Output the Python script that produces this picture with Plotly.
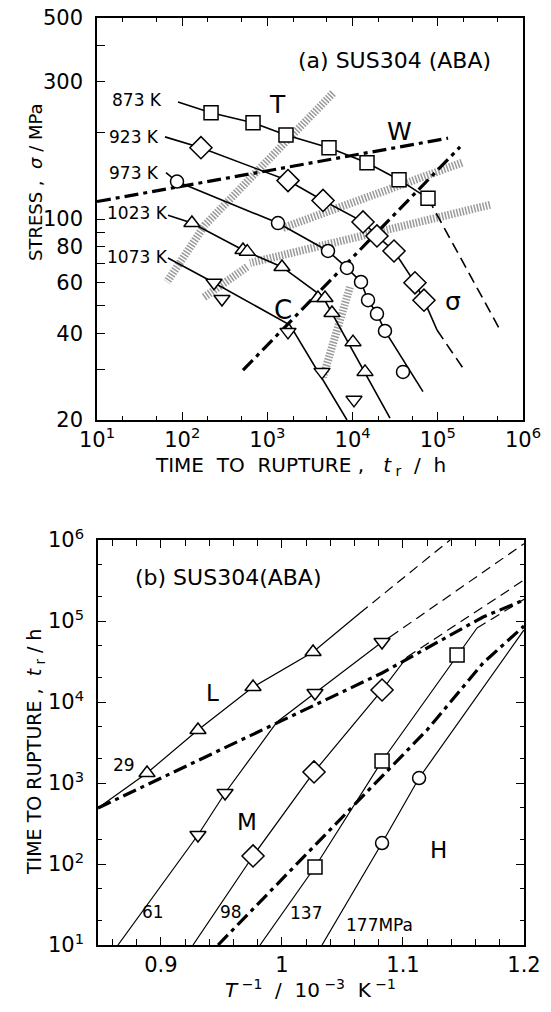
import math
import plotly.graph_objects as go

FONT = "DejaVu Sans"

# ---------------- Panel (a): stress vs time to rupture ----------------
t873 = [218, 678, 1652, 5284, 14760, 35070, 76740]
s873 = [234, 216, 196, 177, 157, 137, 118]
t873_line = [89.3, 218, 678, 1652, 5284, 14760, 35070, 76740]
s873_line = [255, 234, 216, 196, 177, 157, 137, 118]
t873_ext = [76740, 522400]
s873_ext = [118, 41.8]

t923 = [166, 1745, 4497, 13250, 19320, 30620, 53960, 68840]
s923 = [177, 136, 116, 97.7, 87.3, 77.4, 60.0, 52.2]
t923_line = [62.8, 166, 1745, 4497, 13250, 19320, 30620, 53960, 68840, 97900]
s923_line = [193, 177, 136, 116, 97.7, 87.3, 77.4, 60.0, 52.2, 41.1]
t923_ext = [97900, 197600]
s923_ext = [41.1, 30.3]

t973 = [86.9, 1331, 5143, 8590, 12550, 15170, 19320, 23990, 39050]
s973 = [135, 96.8, 77.4, 67.6, 60.4, 52.2, 46.8, 40.8, 29.4]
t973_line = [64.5, 86.9, 1331, 5143, 8590, 12550, 15170, 19320, 23990, 66980]
s973_line = [145, 135, 96.8, 77.4, 67.6, 60.4, 52.2, 46.8, 40.8, 25.1]

t1023 = [130, 517, 580, 1483, 3924, 4745, 5728, 10110, 13990]
s1023 = [96.8, 78.0, 77.0, 68.1, 53.1, 53.1, 47.1, 37.3, 29.4]
t1023_line = [68.1, 130, 517, 1483, 4500, 27480]
s1023_line = [103, 96.8, 78.0, 68.1, 53.5, 20.3]

t1073 = [236, 293, 1745, 4375, 10380]
s1073 = [60.0, 52.7, 40.5, 29.4, 23.5]
t1073_line = [68.1, 236, 1841, 8590]
s1073_line = [73.2, 60.0, 42.8, 20.0]

tW = [10, 131900]
sW = [115, 191]
tC = [517, 182400]
sC = [29.8, 178]

bandA_t = [5888, 625, 185, 66.3]
bandA_s = [274, 137, 95.3, 60.4]
bandC_t = [192400, 1524]
bandC_s = [157, 93.1]
bandD_t = [410000, 625]
bandD_s = [112, 70.3]
bandE_t = [9315, 4497]
bandE_s = [58.0, 28.2]
bandF_t = [577, 175]
bandF_s = [68.1, 53.1]

temp_labels = ["873 K", "923 K", "973 K", "1023 K", "1073 K"]
temp_label_t = [14.2, 13.1, 13.1, 12.4, 12.4]
temp_label_s = [259, 193, 145, 105, 73.8]

xa_tickvals = [10, 100, 1000, 1e4, 1e5, 1e6]
xa_ticktext = ["10<sup>1</sup>", "10<sup>2</sup>", "10<sup>3</sup>", "10<sup>4</sup>",
               "10<sup>5</sup>", "10<sup>6</sup>"]
ya_tickvals = [20, 30, 40, 50, 60, 70, 80, 90, 100, 200, 300, 400, 500]
ya_ticktext = ["20", "", "40", "", "60", "", "80", "", "100", "", "300", "", "500"]

# ---------------- Panel (b): time to rupture vs 1/T ----------------
v29 = [0.8885, 0.9306, 0.9761, 1.0257]
t29 = [1328, 4511, 15310, 41430]
v29_line = [0.848, 0.8885, 0.9306, 0.9761, 1.0257, 1.0645]
t29_line = [491, 1328, 4511, 15310, 41430, 125500]
v29_ext = [1.0645, 1.1389]
t29_ext = [125500, 1e6]

v61 = [0.9306, 0.9530, 1.0273, 1.0827]
t61 = [228, 753, 12920, 55020]
v61_line = [0.8645, 0.9306, 0.9530, 0.9777, 0.9959, 1.0273, 1.0827, 1.0893]
t61_line = [10, 228, 753, 2413, 5665, 12920, 55020, 63500]
v61_ext = [1.0893, 1.2]
t61_ext = [63500, 9.0e5]

v98 = [0.9761, 1.0265, 1.0827]
t98 = [125.6, 1368, 14060]
v98_line = [0.9265, 0.9761, 1.0265, 1.0827, 1.1034]
t98_line = [10, 125.6, 1368, 14060, 35940]
v98_ext = [1.1034, 1.2]
t98_ext = [35940, 320700]

v137 = [1.0273, 1.0827, 1.1447]
t137 = [91.8, 1870, 38050]
v137_line = [0.9819, 1.0273, 1.0827, 1.1447, 1.1612]
t137_line = [10, 91.8, 1870, 38050, 81950]
v137_ext = [1.1612, 1.2]
t137_ext = [81950, 185000]

v177 = [1.0827, 1.1133]
t177 = [181.6, 1152]
v177_line = [1.0331, 1.0827, 1.1133, 1.1414, 1.2]
t177_line = [10, 181.6, 1152, 4511, 77500]

vDD1 = [0.848, 0.9844, 1.0827, 1.1662, 1.2]
tDD1 = [491, 4511, 22790, 112100, 181500]
vDD2 = [0.9472, 1.1199, 1.1662, 1.2]
tDD2 = [10, 4511, 30300, 86700]

xb_tickvals = [0.9, 1.0, 1.1, 1.2]
xb_ticktext = ["0.9", "1", "1.1", "1.2"]
yb_tickvals = [10, 100, 1000, 1e4, 1e5, 1e6]
yb_ticktext = xa_ticktext

fig = go.Figure()

def line(x, y, xa, ya, width=1.6, dash="solid", color="black"):
    fig.add_trace(go.Scatter(x=x, y=y, mode="lines", xaxis=xa, yaxis=ya,
                             line=dict(color=color, width=width, dash=dash),
                             showlegend=False, hoverinfo="skip"))

def marks(x, y, xa, ya, symbol, size=12):
    fig.add_trace(go.Scatter(x=x, y=y, mode="markers", xaxis=xa, yaxis=ya,
                             marker=dict(symbol=symbol, size=size, color="white",
                                         line=dict(color="black", width=1.5)),
                             showlegend=False, hoverinfo="skip"))

HATCH = dict(width=8, dash="1.5px,1.5px", color="#9a9a9a")
for bt, bs in [(bandA_t, bandA_s), (bandC_t, bandC_s), (bandD_t, bandD_s),
               (bandE_t, bandE_s), (bandF_t, bandF_s)]:
    line(bt, bs, "x", "y", width=HATCH["width"], dash=HATCH["dash"], color=HATCH["color"])

DD = "14px,5px,4px,5px"
line(tW, sW, "x", "y", width=3.2, dash=DD)
line(tC, sC, "x", "y", width=3.2, dash=DD)

line(t873_line, s873_line, "x", "y")
line(t873_ext, s873_ext, "x", "y", dash="11px,6px")
line(t923_line, s923_line, "x", "y")
line(t923_ext, s923_ext, "x", "y", dash="11px,6px")
line(t973_line, s973_line, "x", "y")
line(t1023_line, s1023_line, "x", "y")
line(t1073_line, s1073_line, "x", "y")

marks(t873, s873, "x", "y", "square", 14)
marks(t923, s923, "x", "y", "diamond", 17)
marks(t973, s973, "x", "y", "circle", 13)
marks(t1023, s1023, "x", "y", "triangle-up", 14)
marks(t1073, s1073, "x", "y", "triangle-down", 14)

# panel b
line(v29_line, t29_line, "x2", "y2", width=1.2)
line(v29_ext, t29_ext, "x2", "y2", width=1.2, dash="10px,6px")
line(v61_line, t61_line, "x2", "y2", width=1.2)
line(v61_ext, t61_ext, "x2", "y2", width=1.2, dash="10px,6px")
line(v98_line, t98_line, "x2", "y2", width=1.2)
line(v98_ext, t98_ext, "x2", "y2", width=1.2, dash="10px,6px")
line(v137_line, t137_line, "x2", "y2", width=1.2)
line(v137_ext, t137_ext, "x2", "y2", width=1.2, dash="10px,6px")
line(v177_line, t177_line, "x2", "y2", width=1.2)
line(vDD1, tDD1, "x2", "y2", width=3.2, dash=DD)
line(vDD2, tDD2, "x2", "y2", width=3.2, dash=DD)

marks(v29, t29, "x2", "y2", "triangle-up", 14)
marks(v61, t61, "x2", "y2", "triangle-down", 14)
marks(v98, t98, "x2", "y2", "diamond", 17)
marks(v137, t137, "x2", "y2", "square", 14)
marks(v177, t177, "x2", "y2", "circle", 13)

W, H = 551, 1012
def px(x):
    return x / W
def py(y):
    return 1 - y / H

tick_font = dict(family=FONT, size=21, color="black")
common = dict(showline=True, linecolor="black", linewidth=1.5, ticks="inside",
              tickcolor="black", tickwidth=1.2, showgrid=False, zeroline=False,
              tickfont=tick_font, automargin=False)

fig.update_layout(
    width=W, height=H, margin=dict(l=0, r=0, t=0, b=0),
    paper_bgcolor="white", plot_bgcolor="white", showlegend=False,
    font=dict(family=FONT, color="black"),
    xaxis=dict(type="log", range=[1, 6], domain=[px(97), px(523)], anchor="y",
               tickmode="array", tickvals=xa_tickvals, ticktext=xa_ticktext,
               ticklen=8, mirror="ticks",
               minor=dict(ticks="inside", ticklen=4, tickcolor="black",
                          tickwidth=1, showgrid=False), **common),
    yaxis=dict(type="log", range=[1.30103, 2.69897], domain=[py(420), py(18)], anchor="x",
               tickmode="array", tickvals=ya_tickvals, ticktext=ya_ticktext,
               ticklen=8, mirror=True, ticklabelstandoff=8, **common),
    xaxis2=dict(range=[0.848, 1.2], domain=[px(98), px(524)], anchor="y2",
                tickmode="array", tickvals=xb_tickvals, ticktext=xb_ticktext,
                ticklen=8, mirror="ticks",
                minor=dict(ticks="inside", ticklen=6, dtick=0.02, tickcolor="black",
                           tickwidth=1, showgrid=False), **common),
    yaxis2=dict(type="log", range=[1, 6], domain=[py(945), py(540)], anchor="x2",
                tickmode="array", tickvals=yb_tickvals, ticktext=yb_ticktext,
                ticklen=8, mirror="ticks", ticklabelstandoff=8,
                minor=dict(ticks="inside", ticklen=4, tickcolor="black",
                           tickwidth=1, showgrid=False), **common),
)

ann = []
def text(x, y, s, size, xref="x", yref="y", xanchor="center", yanchor="middle",
         angle=0, xlog=False, ylog=False):
    ann.append(dict(x=math.log10(x) if xlog else x, y=math.log10(y) if ylog else y,
                    xref=xref, yref=yref, text=s, showarrow=False,
                    xanchor=xanchor, yanchor=yanchor, textangle=angle,
                    font=dict(family=FONT, size=size, color="black")))

# panel a annotations (data coords, log axes)
for lab, lt, ls in zip(temp_labels, temp_label_t, temp_label_s):
    text(lt, ls, lab, 17, xanchor="left", xlog=True, ylog=True)
text(30620, 357, "(a) SUS304 (ABA)", 22, xlog=True, ylog=True)
text(1297, 251, "T", 25, xlog=True, ylog=True)
text(35980, 202, "W", 25, xlog=True, ylog=True)
text(1524, 48.3, "C", 26, xlog=True, ylog=True)
text(150700, 51.5, "σ", 25, xlog=True, ylog=True)

# panel b annotations (linear x, log y)
text(0.956, 3.49e5, "(b) SUS304(ABA)", 22, xref="x2", yref="y2", ylog=True)
text(0.9422, 12900, "L", 23, xref="x2", yref="y2", ylog=True)
text(0.9711, 330, "M", 23, xref="x2", yref="y2", ylog=True)
text(1.129, 149, "H", 23, xref="x2", yref="y2", ylog=True)
text(0.8695, 1667, "29", 17, xref="x2", yref="y2", ylog=True)
text(0.8935, 25.5, "61", 17, xref="x2", yref="y2", ylog=True)
text(0.958, 25.5, "98", 17, xref="x2", yref="y2", ylog=True)
text(1.0199, 24.8, "137", 17, xref="x2", yref="y2", ylog=True)
text(1.0802, 17.7, "177MPa", 17, xref="x2", yref="y2", ylog=True)

# axis titles (paper coords)
text(px(300), py(466), "TIME  TO  RUPTURE ,   <i>t</i><sub> r</sub>  /  h", 20,
     "paper", "paper")
text(px(36), py(182), "STRESS ,  <i>σ</i> / MPa", 18, "paper", "paper", angle=-90)
text(px(310), py(989),
     "<i>T</i><sup> −1</sup>  /  10<sup> −3</sup>  K<sup> −1</sup>", 20, "paper", "paper")
text(px(35), py(752), "TIME TO RUPTURE ,  <i>t</i><sub> r</sub> / h", 19, "paper", "paper",
     angle=-90)

fig.update_layout(annotations=ann)
fig.write_html("out.html", config={"displayModeBar": False},
               post_script="document.body.style.margin='0px';document.body.style.overflow='hidden';")
